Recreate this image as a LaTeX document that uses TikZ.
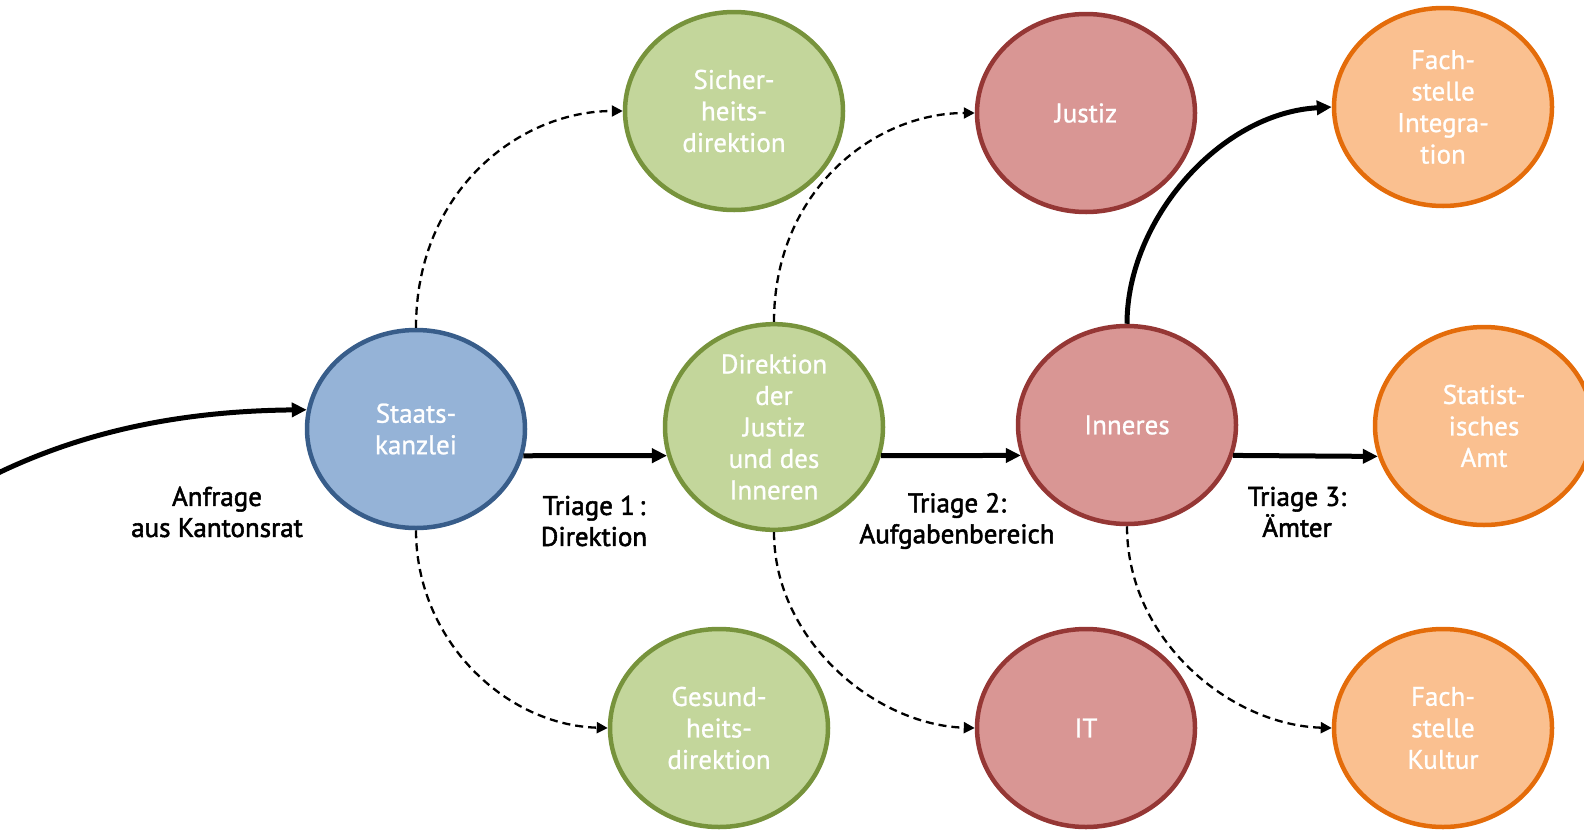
\documentclass[tikz,border=0pt]{standalone}
\usepackage{fontspec}
\setmainfont[FakeBold=0.9]{PT Sans}
\newfontfamily\nodefont[FakeBold=0.9]{PT Sans}
\newfontfamily\lblfont[FakeBold=2]{PT Sans}
\usetikzlibrary{shapes.geometric,arrows.meta}
\definecolor{bluefill}{HTML}{95B3D7}
\definecolor{blueline}{HTML}{385D8A}
\definecolor{greenfill}{HTML}{C3D69B}
\definecolor{greenline}{HTML}{77933C}
\definecolor{redfill}{HTML}{D99694}
\definecolor{redline}{HTML}{953735}
\definecolor{orangefill}{HTML}{FAC090}
\definecolor{orangeline}{HTML}{E46C0A}
\tikzset{
  bubble/.style={ellipse, line width=4.5pt, minimum width=218pt, minimum height=198pt,
    inner sep=0pt, align=center, text=white,
    font=\nodefont\fontsize{27}{31.5}\selectfont},
  bluebub/.style={bubble, draw=blueline, fill=bluefill},
  greenbub/.style={bubble, draw=greenline, fill=greenfill},
  redbub/.style={bubble, draw=redline, fill=redfill},
  orangebub/.style={bubble, draw=orangeline, fill=orangefill},
  solidarrow/.style={line width=5pt, -{Triangle[length=15pt,width=14pt]}},
  dasharrow/.style={line width=2.3pt, dash pattern=on 8pt off 5pt, -{Triangle[length=11pt,width=11pt]}},
  lbl/.style={align=center, text=black, inner sep=0pt,
    font=\lblfont\fontsize{27}{31}\selectfont}
}
\begin{document}
\begin{tikzpicture}[x=1pt,y=-1pt]
\useasboundingbox (0,0) rectangle (1584,833);
% nodes
\node[bluebub]   (sk) at (416,429)  {Staats-\\kanzlei};
\node[greenbub]  (sd) at (734,111)  {Sicher-\\heits-\\direktion};
\node[greenbub]  (gd) at (719,728)  {Gesund-\\heits-\\direktion};
\node[greenbub]  (dj) at (774,427)  {Direktion\\der\\Justiz\\und des\\Inneren};
\node[redbub]    (ju) at (1086,113) {Justiz};
\node[redbub]    (in) at (1127,425) {Inneres};
\node[redbub]    (it) at (1086,728) {IT};
\node[orangebub] (fi) at (1443,107) {Fach-\\stelle\\Integra-\\tion};
\node[orangebub] (sa) at (1484,426) {Statist-\\isches\\Amt};
\node[orangebub] (fk) at (1443,728) {Fach-\\stelle\\Kultur};
% labels
\node[lbl] (l0) at (217,512) {Anfrage\\aus Kantonsrat};
\node[lbl] (l1) at (594,521) {Triage 1\,:\\Direktion};
\node[lbl] (l2) at (957,521) {Triage 2:\\Aufgabenbereich};
\node[lbl] (l3) at (1297,512) {Triage 3:\\Ämter};
% incoming
\coordinate (start) at (-6,475);
\draw[solidarrow] (start) .. controls (90,428) and (190,411) .. (sk.170.6);
% solid arrows
\draw[solidarrow] (sk.-14.3) -- (dj.195.4);
\draw[solidarrow] (dj.-15.4) -- (in.196.5);
\draw[solidarrow] (in.-16.5) -- (sa.196);
\draw[solidarrow] (in.north) .. controls (1127,220) and (1220,113) .. (fi.west);
% dashed arrows
\draw[dasharrow] (sk.north) .. controls (416,190) and (520,111) .. (sd.west);
\draw[dasharrow] (sk.south) .. controls (416,640) and (505,725) .. (gd.west);
\draw[dasharrow] (dj.north) .. controls (774,190) and (875,113) .. (ju.west);
\draw[dasharrow] (dj.south) .. controls (774,640) and (875,725) .. (it.west);
\draw[dasharrow] (in.south) .. controls (1127,640) and (1230,725) .. (fk.west);
\end{tikzpicture}
\end{document}
